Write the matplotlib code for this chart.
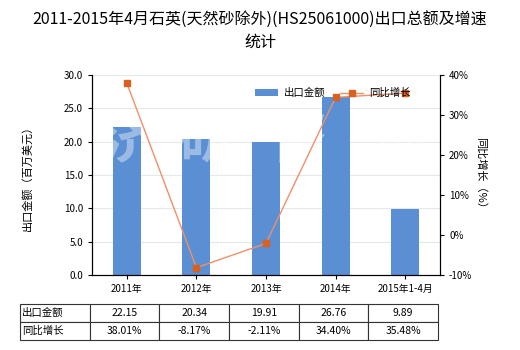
import matplotlib
matplotlib.use("Agg")
import matplotlib.pyplot as plt
from matplotlib.ticker import FuncFormatter

plt.rcParams['font.family'] = ['Noto Sans CJK SC', 'DejaVu Sans']

years = ['2011年', '2012年', '2013年', '2014年', '2015年1-4月']
export_value = [22.15, 20.34, 19.91, 26.76, 9.89]
growth = [38.01, -8.17, -2.11, 34.40, 35.48]
value_labels = ['22.15', '20.34', '19.91', '26.76', '9.89']
growth_labels = ['38.01%', '-8.17%', '-2.11%', '34.40%', '35.48%']

bar_color = '#5B8FD3'
line_color = '#EE9069'
marker_color = '#D9611F'

fig = plt.figure(figsize=(5.2, 3.5), dpi=100)
ax = fig.add_axes([92 / 520, 1 - 275 / 350, 348 / 520, 200 / 350])
x = list(range(len(years)))

bars = ax.bar(x, export_value, width=0.4, color=bar_color, zorder=2, label='出口金额')
ax.set_xlim(-0.5, len(years) - 0.5)
ax.set_ylim(0, 30)
ax.set_yticks([0, 5, 10, 15, 20, 25, 30])
ax.yaxis.set_major_formatter(FuncFormatter(lambda v, p: f'{v:.1f}'))
ax.set_xticks(x)
ax.set_xticklabels(years)
ax.grid(axis='y', color='#E3E8EA', linewidth=0.8, zorder=0)
ax.tick_params(labelsize=7, length=3, width=0.8)
ax.spines['top'].set_visible(False)
ax.set_ylabel('出口金额（百万美元）', fontsize=8, labelpad=22)

ax2 = ax.twinx()
line, = ax2.plot(x, growth, color=line_color, linewidth=1, marker='s', markersize=4,
                 markerfacecolor=marker_color, markeredgecolor=marker_color, zorder=3, label='同比增长')
ax2.set_ylim(-10, 40)
ax2.set_yticks([-10, 0, 10, 20, 30, 40])
ax2.yaxis.set_major_formatter(FuncFormatter(lambda v, p: f'{v:.0f}%'))
ax2.tick_params(labelsize=7, length=3, width=0.8)
ax2.spines['top'].set_visible(False)
ax2.set_ylabel('同比增长（%）', fontsize=8, rotation=270, labelpad=10)

# watermark
for wx, ch in zip([0.05, 1.15, 2.45, 3.9], '济研咨询'):
    ax.text(wx, 0.67, ch, transform=ax.get_xaxis_transform(), fontsize=42, fontweight='bold',
            color='white', alpha=0.4, ha='center', va='center', zorder=4)

fig.legend([bars, line], ['出口金额', '同比增长'], loc='center', bbox_to_anchor=(333 / 520, 1 - 93 / 350),
           ncol=2, frameon=False, fontsize=7.5, handlelength=2.2, handletextpad=0.6, columnspacing=1.4)

fig.text(0.5, 1 - 20 / 350, '2011-2015年4月石英(天然砂除外)(HS25061000)出口总额及增速', ha='center',
         va='center', fontsize=11.5)
fig.text(0.5, 1 - 42 / 350, '统计', ha='center', va='center', fontsize=11.5)

# data table
tax = fig.add_axes([20 / 520, 1 - 340 / 350, 418 / 520, 36 / 350])
tax.axis('off')
cells = [['出口金额'] + value_labels, ['同比增长'] + growth_labels]
tbl = tax.table(cellText=cells, bbox=[0, 0, 1, 1], cellLoc='center')
tbl.auto_set_font_size(False)
tbl.set_fontsize(7.5)
for (r, c), cell in tbl.get_celld().items():
    cell.set_linewidth(0.8)
    cell.set_edgecolor('#333333')
    if c == 0:
        cell.set_text_props(ha='left')
        cell._loc = 'left'
        cell.PAD = 0.03

fig.savefig('out.png', dpi=100)
